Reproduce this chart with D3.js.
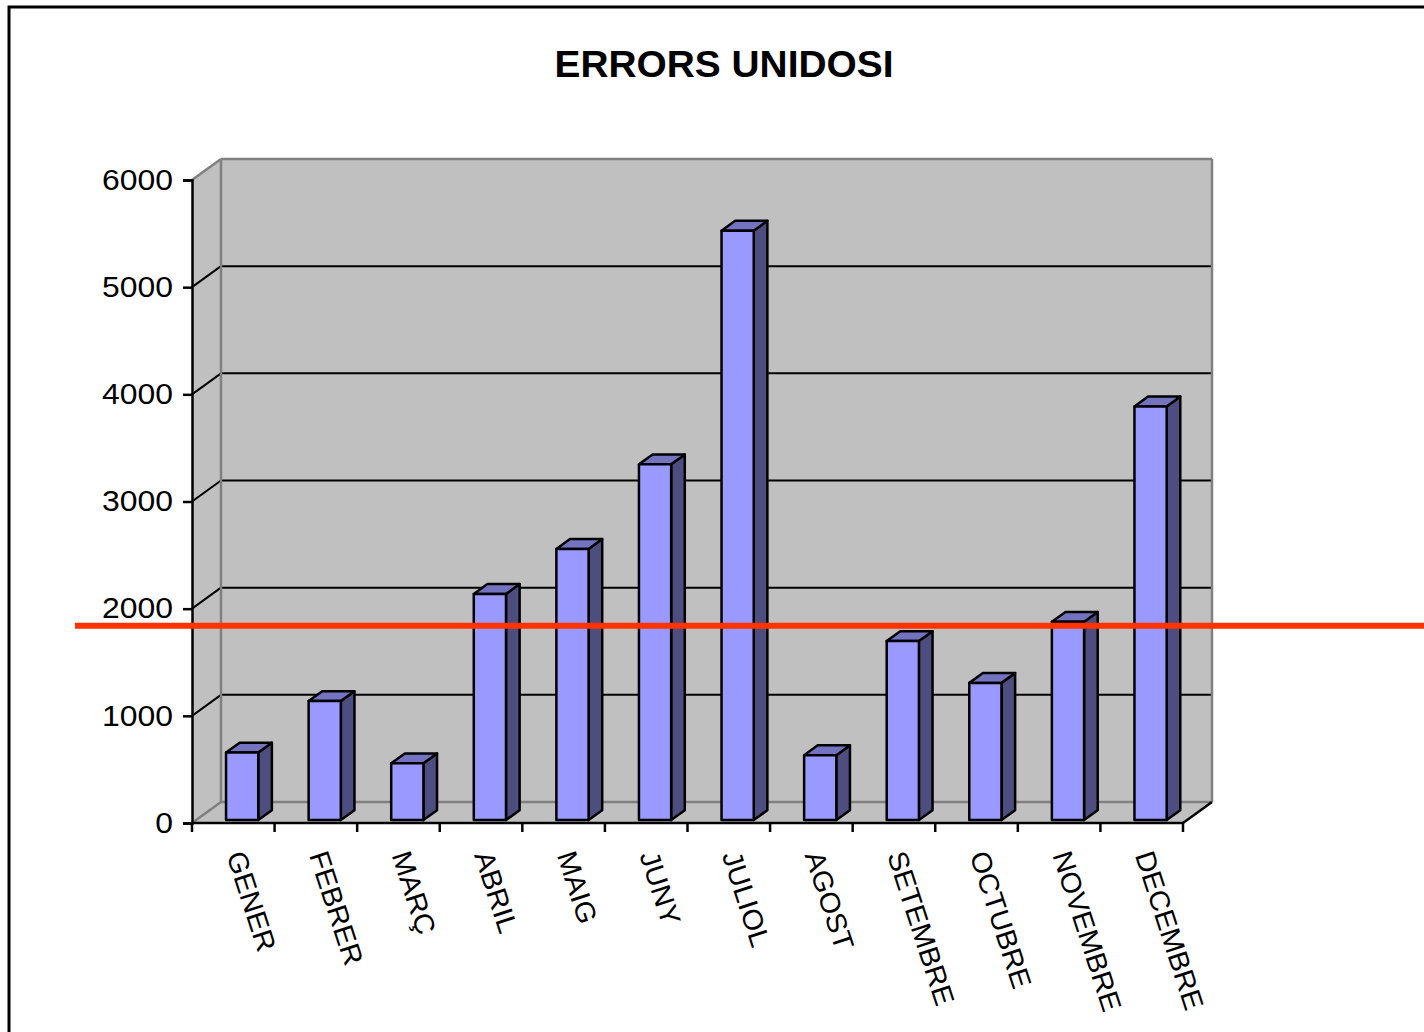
<!DOCTYPE html>
<html>
<head>
<meta charset="utf-8">
<script src="https://cdn.jsdelivr.net/npm/d3@7"></script>
<style>
  html, body { margin: 0; padding: 0; background: #fff; overflow: hidden; }
  text { font-family: 'Liberation Sans', Arial, sans-serif; }
</style>
</head>
<body>
<div id="chart"></div>
<script>
var months = ['GENER', 'FEBRER', 'MARÇ', 'ABRIL', 'MAIG', 'JUNY', 'JULIOL',
  'AGOST', 'SETEMBRE', 'OCTUBRE', 'NOVEMBRE', 'DECEMBRE']
var errors = [630, 1110, 530, 2110, 2530, 3320, 5500, 605, 1670, 1280, 1850, 3860]
var yTicks = [0, 1000, 2000, 3000, 4000, 5000, 6000]
var threshold = 1840
var title = 'ERRORS UNIDOSI'

var width = 1424
var height = 1032

// projection of the chart depth (back wall offset)
var depth = { dx: 29, dy: -21 }
var barFront = 0.14
var barBack = 0.61

var svg = d3
  .select('#chart')
  .append('svg')
  .attr('width', width)
  .attr('height', height)

// outer chart frame, runs off the right and bottom edge
svg
  .append('rect')
  .attr('x', 9)
  .attr('y', 7)
  .attr('width', 1460)
  .attr('height', 1060)
  .attr('fill', 'none')
  .attr('stroke', '#000')
  .attr('stroke-width', 3)

var x = d3.scaleBand().domain(months).range([192, 1183])
var y = d3.scaleLinear().domain([0, 6000]).range([823, 180])

var x0 = x.range()[0]
var x1 = x.range()[1]
var yTop = y(6000)
var yBase = y(0)

function pt (px, py, f) {
  return [px + depth.dx * f, py + depth.dy * f]
}

function poly (points) {
  return points.map(function (p) { return p.join(',') }).join(' ')
}

function stretch (sel, k) {
  sel.each(function () {
    var len = this.getComputedTextLength()
    d3.select(this).attr('textLength', len * k).attr('lengthAdjust', 'spacingAndGlyphs')
  })
}

// side wall, back wall, floor
svg
  .append('polygon')
  .attr('points', poly([pt(x0, yTop, 0), pt(x0, yTop, 1), pt(x0, yBase, 1), pt(x0, yBase, 0)]))
  .attr('fill', '#c0c0c0')

svg
  .append('polygon')
  .attr('points', poly([pt(x0, yTop, 1), pt(x1, yTop, 1), pt(x1, yBase, 1), pt(x0, yBase, 1)]))
  .attr('fill', '#c0c0c0')

svg
  .append('polygon')
  .attr('points', poly([pt(x0, yBase, 0), pt(x0, yBase, 1), pt(x1, yBase, 1), pt(x1, yBase, 0)]))
  .attr('fill', '#c0c0c0')

// gridlines on side and back wall
var grid = yTicks.filter(function (d) { return d > 0 && d < 6000 })

svg
  .selectAll('.grid-back')
  .data(grid)
  .enter()
  .append('line')
  .attr('class', 'grid-back')
  .attr('x1', x0 + depth.dx)
  .attr('x2', x1 + depth.dx)
  .attr('y1', function (d) { return y(d) + depth.dy })
  .attr('y2', function (d) { return y(d) + depth.dy })
  .attr('stroke', '#000')
  .attr('stroke-width', 2)

svg
  .selectAll('.grid-side')
  .data(grid)
  .enter()
  .append('line')
  .attr('class', 'grid-side')
  .attr('x1', x0)
  .attr('x2', x0 + depth.dx)
  .attr('y1', function (d) { return y(d) })
  .attr('y2', function (d) { return y(d) + depth.dy })
  .attr('stroke', '#000')
  .attr('stroke-width', 2)

// gray wall edges
var edges = [
  [pt(x0, yTop, 0), pt(x0, yTop, 1)],
  [pt(x0, yTop, 1), pt(x1, yTop, 1)],
  [pt(x1, yTop, 1), pt(x1, yBase, 1)],
  [pt(x0, yTop, 1), pt(x0, yBase, 1)],
  [pt(x0, yBase, 1), pt(x1, yBase, 1)],
  [pt(x0, yBase, 0), pt(x0, yBase, 1)]
]
svg
  .selectAll('.edge')
  .data(edges)
  .enter()
  .append('line')
  .attr('class', 'edge')
  .attr('x1', function (d) { return d[0][0] })
  .attr('y1', function (d) { return d[0][1] })
  .attr('x2', function (d) { return d[1][0] })
  .attr('y2', function (d) { return d[1][1] })
  .attr('stroke', '#808080')
  .attr('stroke-width', 2.5)

// floor right edge
svg
  .append('line')
  .attr('x1', x1)
  .attr('y1', yBase)
  .attr('x2', x1 + depth.dx)
  .attr('y2', yBase + depth.dy)
  .attr('stroke', '#000')
  .attr('stroke-width', 2.5)

// axes
svg
  .append('g')
  .attr('transform', 'translate(' + x0 + ',0)')
  .call(d3.axisLeft(y).tickValues(yTicks).tickSize(9).tickPadding(10).tickFormat(d3.format('d')))
  .call(function (g) {
    g.select('.domain').attr('stroke-width', 2.5)
    g.selectAll('.tick line').attr('stroke-width', 2.5)
    g.selectAll('text')
      .attr('font-family', "'Liberation Sans', Arial, sans-serif")
      .attr('font-size', 29)
      .attr('fill', '#000')
      .call(stretch, 1.1)
  })

var xEdges = months.map(function (m) { return x(m) }).concat([x1])

svg
  .append('line')
  .attr('x1', x0)
  .attr('x2', x1)
  .attr('y1', yBase)
  .attr('y2', yBase)
  .attr('stroke', '#000')
  .attr('stroke-width', 2.5)

svg
  .selectAll('.xtick')
  .data(xEdges)
  .enter()
  .append('line')
  .attr('class', 'xtick')
  .attr('x1', function (d) { return d })
  .attr('x2', function (d) { return d })
  .attr('y1', yBase)
  .attr('y2', yBase + 9)
  .attr('stroke', '#000')
  .attr('stroke-width', 2.5)

// 3D bars
var bw = x.bandwidth()
var barOffset = bw * 0.363
var barWidth = bw * 0.39

var bars = svg
  .selectAll('.bar')
  .data(months.map(function (m, i) { return { key: m, value: errors[i] } }))
  .enter()
  .append('g')
  .attr('class', 'bar')

function barLeft (d) { return x(d.key) + barOffset }

bars
  .append('polygon')
  .attr('points', function (d) {
    var l = barLeft(d)
    var r = l + barWidth
    return poly([pt(r, y(d.value), barFront), pt(r, y(d.value), barBack),
      pt(r, yBase, barBack), pt(r, yBase, barFront)])
  })
  .attr('fill', '#4d4d80')
  .attr('stroke', '#000')
  .attr('stroke-width', 2.5)
  .attr('stroke-linejoin', 'round')

bars
  .append('polygon')
  .attr('points', function (d) {
    var l = barLeft(d)
    var r = l + barWidth
    return poly([pt(l, y(d.value), barFront), pt(l, y(d.value), barBack),
      pt(r, y(d.value), barBack), pt(r, y(d.value), barFront)])
  })
  .attr('fill', '#7373c0')
  .attr('stroke', '#000')
  .attr('stroke-width', 2.5)
  .attr('stroke-linejoin', 'round')

bars
  .append('polygon')
  .attr('points', function (d) {
    var l = barLeft(d)
    var r = l + barWidth
    return poly([pt(l, y(d.value), barFront), pt(r, y(d.value), barFront),
      pt(r, yBase, barFront), pt(l, yBase, barFront)])
  })
  .attr('fill', '#9999ff')
  .attr('stroke', '#000')
  .attr('stroke-width', 2.5)
  .attr('stroke-linejoin', 'round')

// red reference line
svg
  .append('line')
  .attr('x1', 75)
  .attr('x2', width)
  .attr('y1', y(threshold))
  .attr('y2', y(threshold))
  .attr('stroke', '#ff3300')
  .attr('stroke-width', 6)

// category labels
svg
  .selectAll('.xlabel')
  .data(months)
  .enter()
  .append('text')
  .attr('class', 'xlabel')
  .attr('transform', function (d) {
    return 'translate(' + (x(d) + bw / 2 - 7) + ',855) rotate(72)'
  })
  .attr('font-size', 28)
  .attr('fill', '#000')
  .text(function (d) { return d })
  .call(stretch, 1.04)

// title
svg
  .append('text')
  .attr('x', 724)
  .attr('y', 77)
  .attr('text-anchor', 'middle')
  .attr('font-size', 37)
  .attr('font-weight', 'bold')
  .attr('fill', '#000')
  .text(title)
  .call(stretch, 1.05)
</script>
</body>
</html>
